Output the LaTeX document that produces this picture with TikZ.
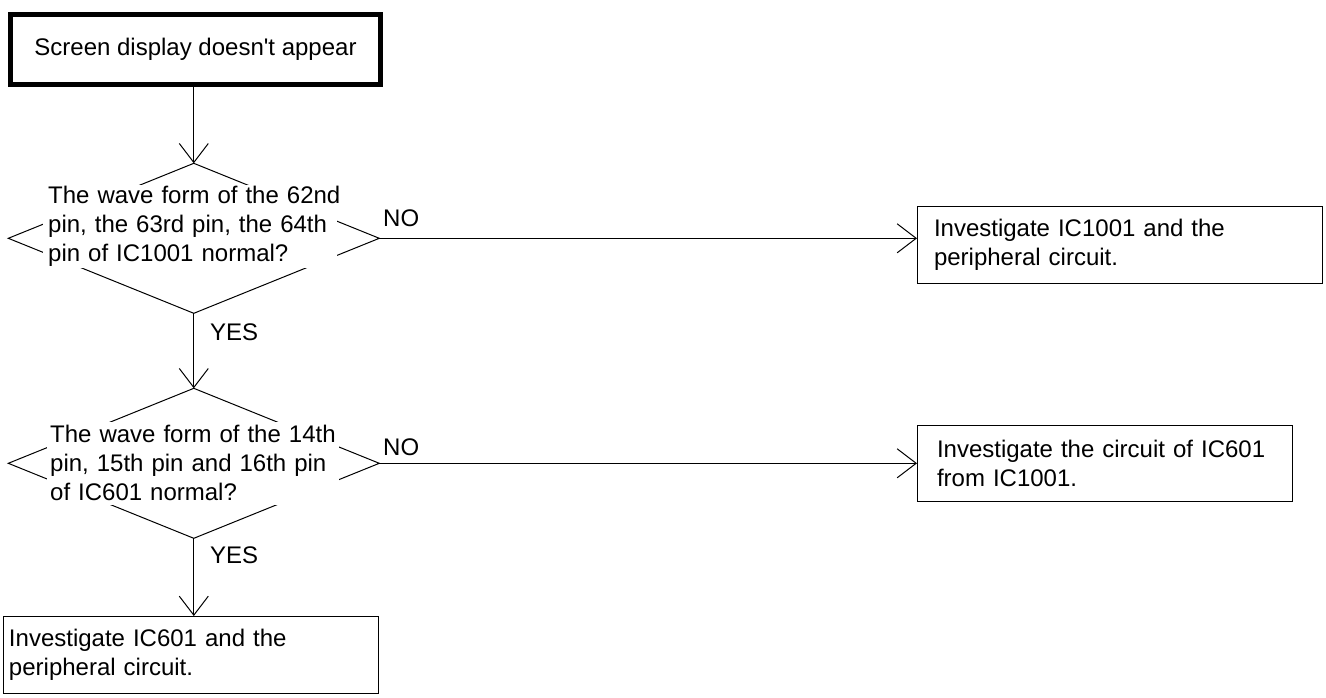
\documentclass[tikz,border=0pt]{standalone}
\usepackage{fontspec}
\setmainfont{Liberation Sans}
\usetikzlibrary{shapes.geometric,arrows.meta}
\tikzset{
  every node/.style={font=\fontsize{24}{29}\selectfont},
  flow/.style={line width=1pt, -{Straight Barb[length=19pt,width=29pt,line width=1pt]}},
  startbox/.style={draw, line width=5pt, minimum width=370pt, minimum height=70pt, inner sep=0pt},
  dia/.style={diamond, draw, line width=1pt, minimum width=371pt, minimum height=150pt, inner sep=0pt, outer sep=0pt},
  mask/.style={fill=white, inner sep=0pt, outer sep=0pt},
  qtext/.style={align=left, inner sep=0pt, anchor=base west, text width=300pt},
  resbox/.style={draw, line width=1pt, align=left, inner ysep=0pt, outer sep=0pt, anchor=north west},
  lbl/.style={inner sep=0pt, anchor=base west}
}
\begin{document}
\begin{tikzpicture}[x=1pt,y=-1pt]
\useasboundingbox (0,0) rectangle (1326,697);
% start
\node[startbox] (start) at (195.5,49.5) {\raisebox{-1.5pt}{Screen display doesn\textquotesingle t appear}};
% decision 1
\node[dia] (d1) at (193.8,238.3) {};
\node[mask, minimum width=294pt, minimum height=83pt] (m1) at (190,226.5) {};
\node[qtext] (q1) at (48,203) {The wave form of the 62nd\\pin, the 63rd pin, the 64th\\pin of IC1001 normal?};
% decision 2
\node[dia] (d2) at (193.8,463.3) {};
\node[mask, minimum width=292pt, minimum height=83pt] (m2) at (193,463.5) {};
\node[qtext] (q2) at (50,442) {The wave form of the 14th\\pin, 15th pin and 16th pin\\of IC601 normal?};
% results
\node[resbox, minimum width=405pt, minimum height=77pt, inner xsep=17pt, text width=371pt] (r1) at (917,206) {Investigate IC1001 and the\\peripheral circuit.};
\node[resbox, minimum width=375pt, minimum height=76pt, inner xsep=20pt, text width=335pt] (r2) at (917,425) {Investigate the circuit of IC601\\from IC1001.};
\node[resbox, minimum width=375pt, minimum height=77pt, inner xsep=6pt, text width=363pt] (r3) at (3,616) {Investigate IC601 and the\\peripheral circuit.};
% connectors
\draw[flow] (start.south -| d1.north) -- (d1.north);
\draw[flow] (d1.south) -- (d2.north);
\draw[flow] (d2.south) -- (d2.south |- r3.north);
\draw[flow] (d1.east) -- (d1.east -| r1.west);
\draw[flow] (d2.east) -- (d2.east -| r2.west);
% labels
\node[lbl] (no1) at (383,226) {NO};
\node[lbl] (no2) at (383,455) {NO};
\node[lbl] (yes1) at (210,340) {YES};
\node[lbl] (yes2) at (210,563) {YES};
\end{tikzpicture}
\end{document}
